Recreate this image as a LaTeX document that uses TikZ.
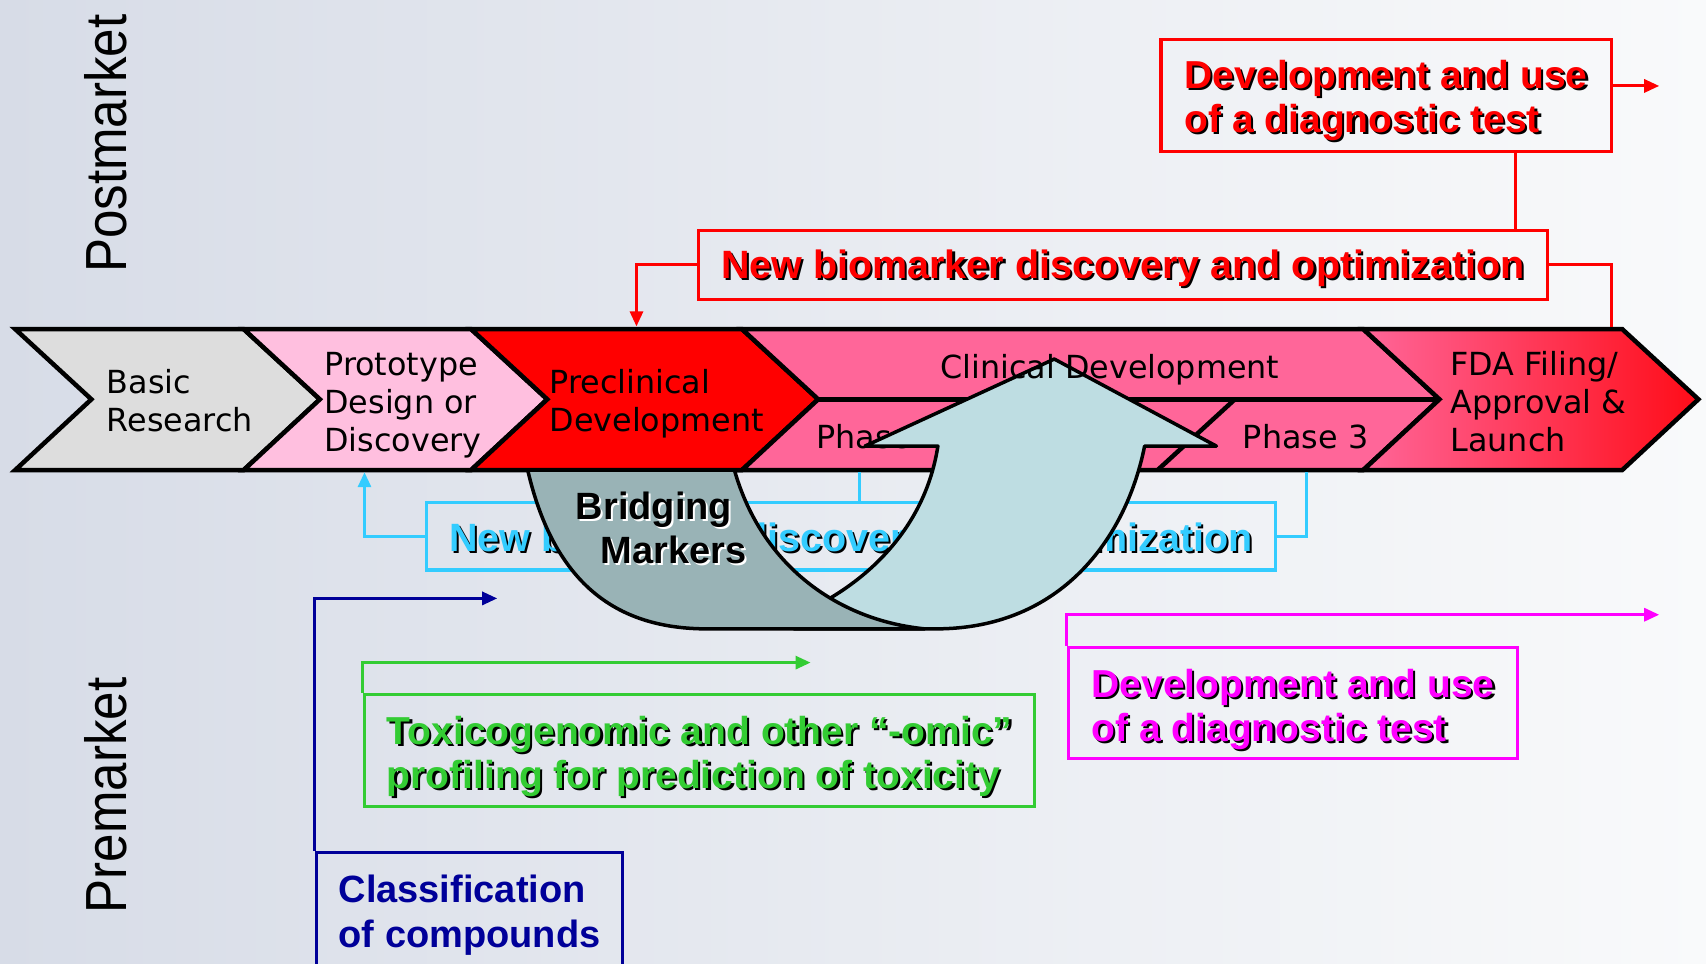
\documentclass[tikz,border=0pt]{standalone}
\usepackage{fontspec}
\setmainfont{Liberation Sans}
\newfontfamily\bandf{DejaVu Sans}
\usetikzlibrary{arrows.meta,calc}

\definecolor{bgL}{RGB}{215,220,231}
\definecolor{bgR}{RGB}{249,250,251}
\definecolor{basicgray}{RGB}{221,221,221}
\definecolor{protopink}{RGB}{255,191,223}
\definecolor{preclred}{RGB}{255,0,0}
\definecolor{clinpink}{RGB}{255,102,153}
\definecolor{fdared}{RGB}{255,12,24}
\definecolor{tagred}{RGB}{255,0,0}
\definecolor{tagcyan}{RGB}{51,204,255}
\definecolor{tagnavy}{RGB}{0,0,153}
\definecolor{taggreen}{RGB}{51,204,51}
\definecolor{tagmagenta}{RGB}{255,0,255}
\definecolor{ribbondark}{RGB}{153,179,182}
\definecolor{ribbonlight}{RGB}{190,221,226}

% coloured text with a dark drop shadow
\newcommand{\shd}[2]{\leavevmode\rlap{\kern2.2bp\raisebox{-2.2bp}{\textcolor{black}{#2}}}\textcolor{#1}{#2}}
% black text with a white drop shadow
\newcommand{\lshd}[1]{\leavevmode\rlap{\kern2.2bp\raisebox{-2.2bp}{\textcolor{white}{#1}}}\textcolor{black}{#1}}
% tall strut that lowers the text inside a framed label
\newcommand{\lowstrut}[1]{\rule{0pt}{#1}}

\begin{document}
\begin{tikzpicture}[x=1.088bp, y=-1.088bp,
  seg/.style={draw=black, line width=4.5bp, line join=miter},
  bandtxt/.style={font=\bandf\fontsize{31.8bp}{38bp}\selectfont, inner sep=0pt, align=left, text=black},
  tag/.style={line width=3.3bp, inner sep=0pt, align=left, font=\bfseries\fontsize{39bp}{44bp}\selectfont},
  link/.style={line width=3bp},
  tip/.style={-{Triangle[length=15bp,width=13bp]}},
  ribbon/.style={draw=black, line width=3.5bp, line join=round},
  sidetxt/.style={rotate=90, inner sep=0pt, font=\fontsize{58bp}{60bp}\selectfont}
]
\useasboundingbox (0,0) rectangle (1568,886);
\clip (0,0) rectangle (1568,886);
\shade[left color=bgL, right color=bgR] (0,0) rectangle (1568,886);

% market phases
\node[sidetxt] (post) at (97,132) {\scalebox{0.88}[1]{Postmarket}};
\node[sidetxt] (pre) at (97,731) {\scalebox{0.88}[1]{Premarket}};

% development pipeline band
\filldraw[seg, fill=basicgray] (14,302.5) -- (224,302.5) -- (294,367) -- (224,432) -- (14,432) -- (84,367) -- cycle;
\filldraw[seg, fill=protopink] (224,302.5) -- (433,302.5) -- (503,367) -- (433,432) -- (224,432) -- (294,367) -- cycle;
\filldraw[seg, fill=preclred] (433,302.5) -- (682,302.5) -- (752,367) -- (682,432) -- (433,432) -- (503,367) -- cycle;
\filldraw[seg, fill=clinpink] (682,302.5) -- (1253,302.5) -- (1323,367) -- (1253,432) -- (682,432) -- (752,367) -- cycle;
\draw[seg] (752,367) -- (1323,367);
\draw[seg] (1135,367) -- (1064,432);
\shadedraw[seg, left color=clinpink, middle color=clinpink!75!fdared, right color=fdared]
  (1253,302.5) -- (1491,302.5) -- (1561,367) -- (1491,432) -- (1253,432) -- (1323,367) -- cycle;

\node[bandtxt, anchor=west] (basicL) at (98,368.5) {Basic\\Research};
\node[bandtxt, anchor=west] (protoL) at (298,372) {Prototype\\Design or\\Discovery};
\node[bandtxt, anchor=west] (preclL) at (505,371.5) {Preclinical\\Development};
\node[bandtxt, anchor=west] (ph1L) at (750,401) {Phase 1};
\node[bandtxt] (ph3L) at (1200,401) {Phase 3};
\node[bandtxt, anchor=west] (fdaL) at (1333,369) {FDA Filing/\\Approval \&\\Launch};

% attachment points on the band
\coordinate (preTop) at (585,300);
\coordinate (fdaTop) at (1481,301);
\coordinate (protoBot) at (335,434);
\coordinate (clinBot) at (790,434);
\coordinate (ph3Bot) at (1201,434);
\coordinate (dxOut) at (1525,79);
\coordinate (dxDrop) at (1393,0);
\coordinate (navyOut) at (457,550);
\coordinate (greenOut) at (745,609);
\coordinate (magOut) at (1525,565);

% postmarket boxes
\node[tag, draw=tagred, minimum width=450bp, minimum height=112bp] (dxTop) at (1274,87.5)
  {\lowstrut{41.5bp}\shd{tagred}{Development and use}\\\shd{tagred}{of a diagnostic test}};
\node[tag, draw=tagred, minimum width=849bp, minimum height=68.5bp, font=\bfseries\fontsize{39.5bp}{44bp}\selectfont] (bmPost) at (1032,243.5)
  {\lowstrut{38bp}\shd{tagred}{New biomarker discovery and optimization}};
\draw[link, tagred, tip] (dxTop.east |- dxOut) -- (dxOut);
\draw[link, tagred] (dxTop.south -| dxDrop) -- (bmPost.north -| dxDrop);
\draw[link, tagred, tip] (bmPost.west) -| (preTop);
\draw[link, tagred] (bmPost.east) -| (fdaTop);

% premarket boxes
\node[tag, draw=tagcyan, minimum width=849bp, minimum height=67.5bp, font=\bfseries\fontsize{39.5bp}{44bp}\selectfont] (bmPre) at (782,493)
  {\lowstrut{40bp}\shd{tagcyan}{New biomarker discovery and optimization}};
\draw[link, tagcyan, tip] (bmPre.west) -| (protoBot);
\draw[link, tagcyan] (bmPre.north -| clinBot) -- (clinBot);
\draw[link, tagcyan] (bmPre.east) -| (ph3Bot);

\node[tag, draw=taggreen, minimum width=670bp, minimum height=112bp] (toxic) at (643,689.5)
  {\lowstrut{42.5bp}\shd{taggreen}{Toxicogenomic and other “-omic”}\\\shd{taggreen}{profiling for prediction of toxicity}};
\draw[link, taggreen, tip] (toxic.north west) |- (greenOut);

\node[tag, draw=tagmagenta, minimum width=449bp, minimum height=111bp] (magDev) at (1188.5,646)
  {\lowstrut{43bp}\shd{tagmagenta}{Development and use}\\\shd{tagmagenta}{of a diagnostic test}};
\draw[link, tagmagenta, tip] (magDev.north west) |- (magOut);

\node[tag, draw=tagnavy, text=tagnavy, minimum width=306bp, minimum height=120bp, font=\bfseries\fontsize{38bp}{45bp}\selectfont] (classif) at (431.5,839)
  {\lowstrut{33bp}Classification\\of compounds};
\draw[link, tagnavy, tip] (classif.north west) |- (navyOut);

% bridging U-turn arrow: back strip, then front strip
\filldraw[ribbon, fill=ribbonlight] (730,578) -- (860,578)
  .. controls (975,578) and (1035,495) .. (1052,410) -- (1118,410) -- (969,330) -- (795,410) -- (862,410)
  .. controls (852,475) and (810,525) .. (752,556) -- (720,566) -- cycle;
\filldraw[ribbon, fill=ribbondark] (485,432)
  .. controls (510,540) and (570,578) .. (650,578) -- (850,578)
  .. controls (770,570) and (700,520) .. (675,432) -- cycle;

\node[inner sep=0pt, align=center, font=\bfseries\fontsize{38bp}{43.5bp}\selectfont] (bridge) at (610,486)
  {\lshd{Bridging}\hspace*{19.6bp}\\\hspace*{19.6bp}\lshd{Markers}};
\node[bandtxt] (clinL) at (1020,340) {Clinical Development};
\end{tikzpicture}
\end{document}
